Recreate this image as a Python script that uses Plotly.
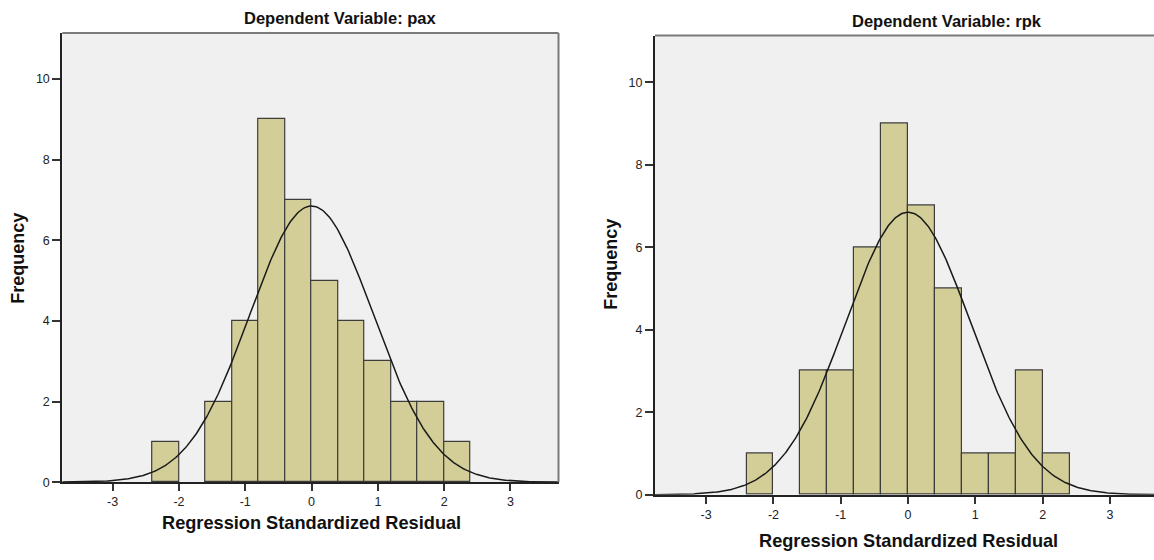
import numpy as np
import plotly.graph_objects as go

# ---- data ----
bin_lefts = [-2.4, -2.0, -1.6, -1.2, -0.8, -0.4, 0.0, 0.4, 0.8, 1.2, 1.6, 2.0]
bin_width = 0.4
pax_counts = [1, 0, 2, 4, 9, 7, 5, 4, 3, 2, 2, 1]
rpk_counts = [1, 0, 3, 3, 6, 9, 7, 5, 1, 1, 3, 1]
pax_mean, pax_sd, pax_n = 0.0, 0.932, 40
rpk_mean, rpk_sd, rpk_n = 0.0, 0.932, 40
x_ticks = [-3, -2, -1, 0, 1, 2, 3]
x_tick_labels = ["-3", "-2", "-1", "0", "1", "2", "3"]
y_ticks = [0, 2, 4, 6, 8, 10]
titles = ["Dependent Variable: pax", "Dependent Variable: rpk"]
x_title = "Regression Standardized Residual"
y_title = "Frequency"

FONT = "Liberation Sans, Arial, sans-serif"
BAR_FILL = "#D3CE97"
BAR_LINE = "#3C3C3C"
PLOT_BG = "#F0F0F0"

W, H = 1154, 560
def px(x):
    return x / W
def py(y):
    return 1 - y / H

fig = go.Figure()

def add_panel(counts, mean, sd, n, xa, ya, xr):
    centers = [b + bin_width / 2 for b, c in zip(bin_lefts, counts) if c > 0]
    heights = [c for c in counts if c > 0]
    fig.add_trace(go.Bar(
        x=centers, y=heights, width=bin_width,
        marker=dict(color=BAR_FILL, line=dict(color=BAR_LINE, width=1.2)),
        xaxis=xa, yaxis=ya, showlegend=False, hoverinfo="skip"))
    xs = np.linspace(xr[0], xr[1], 400)
    ys = n * bin_width / (sd * np.sqrt(2 * np.pi)) * np.exp(-0.5 * ((xs - mean) / sd) ** 2)
    fig.add_trace(go.Scatter(
        x=xs, y=ys, mode="lines", line=dict(color="#1a1a1a", width=1.5),
        xaxis=xa, yaxis=ya, showlegend=False, hoverinfo="skip"))

xr1 = [-3.76, 3.725]
xr2 = [-3.76, 3.655]
add_panel(pax_counts, pax_mean, pax_sd, pax_n, "x", "y", xr1)
add_panel(rpk_counts, rpk_mean, rpk_sd, rpk_n, "x2", "y2", xr2)

TICKFONT = dict(family=FONT, size=12.5, color="#222")

def xaxis_cfg(domain, rng, anchor):
    return dict(domain=domain, range=rng, anchor=anchor,
                tickvals=x_ticks, ticktext=x_tick_labels,
                ticks="outside", ticklen=7, tickcolor="#333", tickwidth=1.5,
                showline=True, linecolor="#222", linewidth=2, mirror=False,
                showgrid=False, zeroline=False, tickfont=TICKFONT)

def yaxis_cfg(domain, rng, anchor):
    return dict(domain=domain, range=rng, anchor=anchor, tickvals=y_ticks,
                ticks="outside", ticklen=8, tickcolor="#333", tickwidth=1.5,
                showline=True, linecolor="#222", linewidth=2, mirror=False,
                showgrid=False, zeroline=False, tickfont=TICKFONT)

fig.update_layout(
    width=W, height=H,
    margin=dict(l=0, r=0, t=0, b=0),
    paper_bgcolor="white", plot_bgcolor=PLOT_BG,
    bargap=0,
    font=dict(family=FONT),
    xaxis=xaxis_cfg([px(62.3), px(558.5)], xr1, "y"),
    yaxis=yaxis_cfg([py(488.3), py(33.3)], [0, 11.14], "x"),
    xaxis2=xaxis_cfg([px(655), 1.0], xr2, "y2"),
    yaxis2=yaxis_cfg([py(501), py(36)], [0, 11.13], "x2"),
)

# gray top/right frame lines of the plot boxes
for xa, ya, right in [("x", "y", True), ("x2", "y2", False)]:
    fig.add_shape(type="line", xref=xa + " domain", yref=ya + " domain",
                  x0=0, x1=1, y0=1, y1=1, line=dict(color="#7a7a7a", width=2))
    if right:
        fig.add_shape(type="line", xref=xa + " domain", yref=ya + " domain",
                      x0=1, x1=1, y0=0, y1=1, line=dict(color="#7a7a7a", width=2))

ann = [
    ("<b>" + titles[0] + "</b>", 340, 18, 16.5),
    ("<b>" + titles[1] + "</b>", 947, 21, 16.5),
    ("<b>" + x_title + "</b>", 311, 530, 18.2),
    ("<b>" + x_title + "</b>", 908, 548, 18.2),
]
for text, x, y, size in ann:
    fig.add_annotation(text=text, x=px(x), y=py(y), xref="paper", yref="paper",
                       xanchor="center", yanchor="middle", showarrow=False,
                       font=dict(family=FONT, size=size, color="#111"))
for x, y in [(18, 262), (611, 268)]:
    fig.add_annotation(text="<b>" + y_title + "</b>", x=px(x), y=py(y),
                       xref="paper", yref="paper", xanchor="center", yanchor="middle",
                       showarrow=False, textangle=-90,
                       font=dict(family=FONT, size=18, color="#111"))

fig.write_html(
    "out.html",
    config={"displayModeBar": False},
    post_script="document.body.style.margin='0';document.body.style.overflow='hidden';",
)
